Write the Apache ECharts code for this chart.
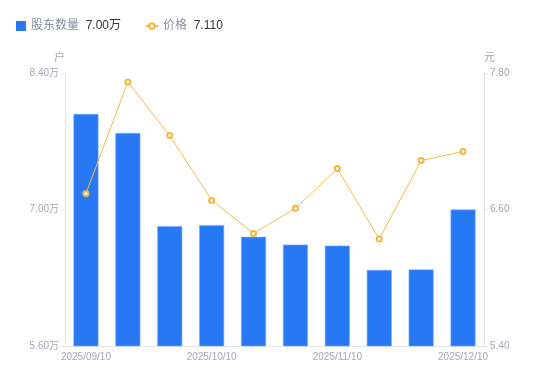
<!DOCTYPE html>
<html><head><meta charset="utf-8">
<script src="https://cdn.jsdelivr.net/npm/echarts@6/dist/echarts.min.js"></script>
<style>html,body{margin:0;padding:0;background:#fff}#c{width:550px;height:381px}</style>
</head><body><div id="c"></div>
<script>
const categories = ['2025/09/10','2025/09/20','2025/09/30','2025/10/10','2025/10/20','2025/10/31','2025/11/10','2025/11/20','2025/11/30','2025/12/10'];
const holders = [7.98, 7.785, 6.83, 6.84, 6.72, 6.64, 6.63, 6.38, 6.385, 7.00];
const prices = [6.74, 7.72, 7.25, 6.68, 6.39, 6.61, 6.96, 6.34, 7.03, 7.11];
const leftTicks = {min: 5.6, max: 8.4, interval: 1.4};
const rightTicks = {min: 5.4, max: 7.8, interval: 1.2};

const chart = echarts.init(document.getElementById('c'), null, {renderer: 'canvas'});
const font = '"Liberation Sans", "Noto Sans CJK SC", sans-serif';
const labelColor = '#a3a7b7';
const legendText = {
  rich: {
    n: {color: '#8a8e9c', fontSize: 12, fontFamily: font},
    v: {color: '#333', fontSize: 12, fontFamily: font}
  }
};
chart.setOption({
  animation: false,
  textStyle: {fontFamily: font},
  legend: [{
    left: 11, top: 15, itemWidth: 10, itemHeight: 10,
    data: [{name: '股东数量', icon: 'rect', itemStyle: {borderWidth: 0}}],
    formatter: n => '{n|' + n + '}  {v|' + holders[holders.length - 1].toFixed(2) + '万}',
    textStyle: legendText
  }, {
    left: 140, top: 15, itemWidth: 12, itemHeight: 7,
    data: [{name: '价格'}],
    formatter: n => '{n|' + n + '}  {v|' + prices[prices.length - 1].toFixed(3) + '}',
    textStyle: legendText
  }],
  grid: {left: 65, right: 66, top: 73, bottom: 35},
  xAxis: {
    type: 'category', data: categories,
    axisLine: {lineStyle: {color: '#e3e4e8'}},
    axisTick: {show: false},
    axisLabel: {color: labelColor, fontSize: 10, interval: 2, margin: 6, fontFamily: font}
  },
  yAxis: [{
    type: 'value', min: leftTicks.min, max: leftTicks.max, interval: leftTicks.interval,
    name: '户', nameGap: 10, nameTextStyle: {color: labelColor, fontSize: 11, align: 'right'},
    axisLine: {show: true, lineStyle: {color: '#e3e4e8'}},
    axisTick: {show: true, length: 4, lineStyle: {color: '#e3e4e8'}},
    splitLine: {show: false},
    axisLabel: {color: labelColor, fontSize: 10, margin: 6, formatter: v => v.toFixed(2) + '万'}
  }, {
    type: 'value', min: rightTicks.min, max: rightTicks.max, interval: rightTicks.interval,
    name: '元', nameGap: 10, nameTextStyle: {color: labelColor, fontSize: 11, align: 'left'},
    axisLine: {show: true, lineStyle: {color: '#e3e4e8'}},
    axisTick: {show: true, length: 4, lineStyle: {color: '#e3e4e8'}},
    splitLine: {show: false},
    axisLabel: {color: labelColor, fontSize: 10, margin: 6, formatter: v => v.toFixed(2)}
  }],
  series: [{
    name: '股东数量', type: 'bar', data: holders, barWidth: 25, yAxisIndex: 0,
    itemStyle: {color: '#2778f4', borderColor: '#7eaefa', borderWidth: 0.6}
  }, {
    name: '价格', type: 'line', data: prices, yAxisIndex: 1,
    symbol: 'emptyCircle', symbolSize: 5,
    lineStyle: {color: '#f6bb43', width: 1},
    itemStyle: {color: '#f6b53a', borderWidth: 1.8}
  }]
});
</script></body></html>
